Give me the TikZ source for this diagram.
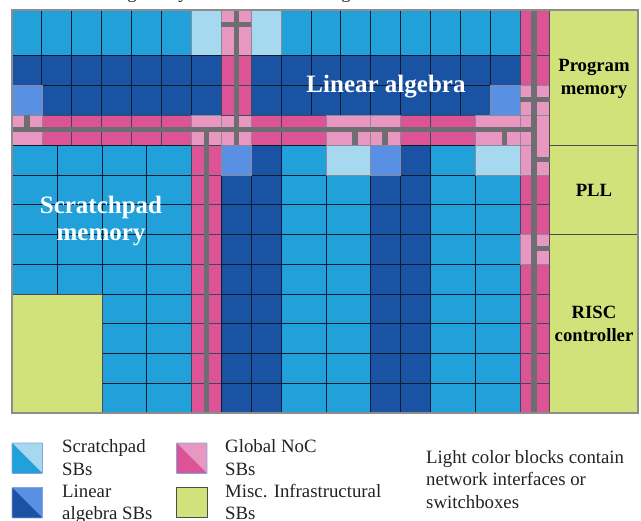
\documentclass[tikz,border=0pt]{standalone}
\usepackage{fontspec}
\setmainfont{Liberation Serif}
\definecolor{sp}{HTML}{22A0DA}
\definecolor{spl}{HTML}{A6D8EF}
\definecolor{la}{HTML}{1A52A4}
\definecolor{lal}{HTML}{5A90E4}
\definecolor{noc}{HTML}{DC5496}
\definecolor{nocl}{HTML}{E898C0}
\definecolor{misc}{HTML}{D2E27A}
\definecolor{wire}{HTML}{6E6E72}
\definecolor{edge}{HTML}{0C1C30}
\definecolor{softedge}{HTML}{8A8A9A}
\definecolor{swatchedge}{HTML}{86A4DC}
\definecolor{cap}{HTML}{222222}
\tikzset{
  cellsp/.style={fill=sp,draw=edge,line width=.9pt},
  cellspl/.style={fill=spl,draw=softedge,line width=.7pt},
  cellla/.style={fill=la,draw=edge,line width=.9pt},
  celllal/.style={fill=lal,draw=softedge,line width=.7pt},
  cellnoc/.style={fill=noc,draw=edge!80,line width=.9pt},
  cellnocl/.style={fill=nocl,draw=softedge,line width=.7pt},
  cellmisc/.style={fill=misc,draw=black!70,line width=.9pt},
  wirev/.style={draw=wire,line width=5.4pt},
  wireh/.style={draw=wire,line width=5pt},
  biglabel/.style={text=white,font=\bfseries\fontsize{25}{27}\selectfont,inner sep=0pt},
  blacklabel/.style={text=black,font=\bfseries\fontsize{18.7}{23.5}\selectfont,inner sep=0pt,align=center},
  legendtext/.style={text=cap,font=\fontsize{18.8}{22.5}\selectfont,inner sep=0pt,anchor=base west},
}
\newcommand{\cel}[5]{\draw[#1] (#2,#3) rectangle (#4,#5);}
\begin{document}
\begin{tikzpicture}[x=1pt,y=-1pt]
\useasboundingbox (0,0) rectangle (641,521);
% clipped caption above the figure
\node[text=cap,font=\fontsize{18.8}{20}\selectfont,inner sep=0pt,anchor=base] (capa) at (132,-1) {g};
\node[text=cap,font=\fontsize{18.8}{20}\selectfont,inner sep=0pt,anchor=base] (capb) at (183,-1) {y};
\node[text=cap,font=\fontsize{18.8}{20}\selectfont,inner sep=0pt,anchor=base] (capc) at (346,-1) {g};
% top scratchpad row and two linear algebra rows
\foreach \a/\b in {12/41.9,41.9/71.8,71.8/101.7,101.7/131.6,131.6/161.5,161.5/191.4,281.1/311,311/340.9,340.9/370.8,370.8/400.7,400.7/430.6,430.6/460.5,460.5/490.4,490.4/520.3}{
  \cel{cellsp}{\a}{10}{\b}{55}
}
\cel{cellspl}{191.4}{10}{221.3}{55}
\cel{cellspl}{251.2}{10}{281.1}{55}
\foreach \a/\b in {12/41.9,41.9/71.8,71.8/101.7,101.7/131.6,131.6/161.5,161.5/191.4,191.4/221.3,251.2/281.1,281.1/311,311/340.9,340.9/370.8,370.8/400.7,400.7/430.6,430.6/460.5,460.5/490.4,490.4/520.3}{
  \cel{cellla}{\a}{55}{\b}{85}
  \cel{cellla}{\a}{85}{\b}{115}
}
\cel{celllal}{12}{85}{41.9}{115}
\cel{celllal}{490.4}{85}{520.3}{115}
% horizontal NoC band
\foreach \a/\b in {41.9/71.8,71.8/101.7,101.7/131.6,131.6/161.5,161.5/191.4,251.2/281.1,281.1/326,400.7/430.6,430.6/475.5}{
  \cel{cellnoc}{\a}{115}{\b}{145}
}
\foreach \a/\b in {12/41.9,191.4/221.3,221.3/251.2,326/370.8,370.8/400.7,475.5/520.3}{
  \cel{cellnocl}{\a}{115}{\b}{145}
}
% NoC column above the band
\cel{cellnocl}{221.3}{10}{251.2}{55}
\cel{cellnoc}{221.3}{55}{251.2}{85}
\cel{cellnoc}{221.3}{85}{251.2}{115}
% lower left scratchpad
\foreach \y/\z in {145/175,175/204.5,204.5/234.5,234.5/264,264/294}{
  \foreach \a/\b in {12/57.5,57.5/102.3,102.3/146.7,146.7/191.4}{
    \cel{cellsp}{\a}{\y}{\b}{\z}
  }
}
\foreach \y/\z in {294/323.7,323.7/353.5,353.5/383.3,383.3/413}{
  \cel{cellsp}{102.3}{\y}{146.7}{\z}
  \cel{cellsp}{146.7}{\y}{191.4}{\z}
}
% lower columns
\foreach \y/\z in {145/175,175/204.5,204.5/234.5,234.5/264,264/294,294/323.7,323.7/353.5,353.5/383.3,383.3/413}{
  \cel{cellnoc}{191.4}{\y}{221.3}{\z}
  \cel{cellla}{221.3}{\y}{251.2}{\z}
  \cel{cellla}{251.2}{\y}{281.1}{\z}
  \cel{cellsp}{281.1}{\y}{326}{\z}
  \cel{cellsp}{326}{\y}{370.8}{\z}
  \cel{cellla}{370.8}{\y}{400.7}{\z}
  \cel{cellla}{400.7}{\y}{430.6}{\z}
  \cel{cellsp}{430.6}{\y}{475.5}{\z}
  \cel{cellsp}{475.5}{\y}{520.3}{\z}
  \cel{cellnoc}{520.3}{\y}{549.7}{\z}
}
\cel{celllal}{221.3}{145}{251.2}{175}
\cel{cellspl}{326}{145}{370.8}{175}
\cel{celllal}{370.8}{145}{400.7}{175}
\cel{cellspl}{475.5}{145}{520.3}{175}
% right NoC column
\cel{cellnoc}{520.3}{10}{549.7}{55}
\cel{cellnoc}{520.3}{55}{549.7}{85}
\cel{cellnocl}{520.3}{85}{549.7}{115}
\cel{cellnocl}{520.3}{115}{534}{145}
\cel{cellnocl}{520.3}{145}{534}{175}
\cel{cellnocl}{534}{115}{549.7}{175}
\cel{cellnocl}{520.3}{234.5}{534}{264}
\cel{cellnocl}{534}{234.5}{549.7}{264}
% misc blocks
\cel{cellmisc}{12}{294}{102.3}{413}
\cel{cellmisc}{549.7}{10}{638}{145}
\cel{cellmisc}{549.7}{145}{638}{234.5}
\cel{cellmisc}{549.7}{234.5}{638}{413}
% wires
\draw[wireh] (12,130) -- (536.5,130);
\draw[wirev] (27,115) -- (27,130);
\draw[wirev] (236.3,10) -- (236.3,145);
\draw[wireh] (221.3,25) -- (251.2,25);
\draw[wirev] (206.3,130) -- (206.3,413);
\draw[wirev] (355,130) -- (355,145);
\draw[wirev] (385,130) -- (385,145);
\draw[wirev] (504.5,130) -- (504.5,145);
\draw[wirev] (534,10) -- (534,413);
\draw[wireh] (520.3,100) -- (549.7,100);
\draw[wireh] (534,160) -- (549.7,160);
\draw[wireh] (534,249) -- (549.7,249);
% outer frame
\draw[draw=black!45,line width=1.2pt] (12,10) rectangle (638,413);
% labels
\node[biglabel] (linalg) at (386,87) {Linear algebra};
\node[biglabel] (spone) at (101,207) {Scratchpad};
\node[biglabel] (sptwo) at (101,237) {memory};
\node[blacklabel] (pm) at (594,79) {Program\\memory};
\node[blacklabel] (pll) at (594,190) {PLL};
\node[blacklabel] (risc) at (594,324) {RISC\\controller};
% legend swatches
\foreach \x/\y/\d/\l in {12/443/sp/spl,12/487.5/la/lal,176.5/443/noc/nocl}{
  \fill[\l] (\x,\y) rectangle (\x+30.5,\y+30.5);
  \fill[\d] (\x,\y) -- (\x+30.5,\y+30.5) -- (\x,\y+30.5) -- cycle;
  \draw[swatchedge,line width=.8pt,rounded corners=.8pt] (\x,\y) rectangle (\x+30.5,\y+30.5);
}
\draw[cellmisc,line width=1pt] (176.5,487.5) rectangle (207,518);
% legend text
\node[legendtext] (l1a) at (62,452.5) {Scratchpad};
\node[legendtext] (l1b) at (62,475.5) {SBs};
\node[legendtext] (l2a) at (62,497.5) {Linear};
\node[legendtext] (l2b) at (62,519.5) {algebra SBs};
\node[legendtext] (l3a) at (225,452.5) {Global NoC};
\node[legendtext] (l3b) at (225,475.5) {SBs};
\node[legendtext] (l4a) at (225,497.5) {Misc. Infrastructural};
\node[legendtext] (l4b) at (225,519.5) {SBs};
\node[legendtext] (n1) at (426,463.5) {Light color blocks contain};
\node[legendtext] (n2) at (426,486) {network interfaces or};
\node[legendtext] (n3) at (426,508.5) {switchboxes};
\end{tikzpicture}
\end{document}
